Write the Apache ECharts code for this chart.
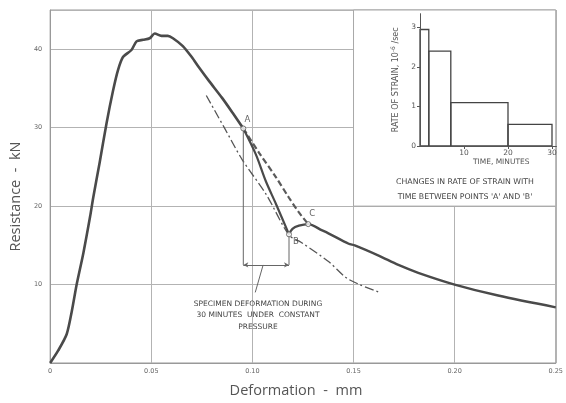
<!DOCTYPE html>
<html>
<head>
<meta charset="utf-8">
<script src="https://cdn.jsdelivr.net/npm/echarts@6/dist/echarts.min.js"></script>
<style>
  html, body { margin: 0; padding: 0; background: #fff; }
  #chart { width: 566px; height: 403px; }
</style>
</head>
<body>
<div id="chart"></div>
<script>
// Resistance (kN) against deformation (mm) — rise to peak and descent to point A
const loadingBranch = [
  [0, 0], [0.004, 1.6], [0.0082, 3.7], [0.0107, 6.6], [0.0131, 10.0], [0.0164, 14.0],
  [0.0197, 18.6], [0.0213, 21.1], [0.0245, 25.6], [0.0279, 30.6], [0.031, 34.6],
  [0.0335, 37.3], [0.036, 39.0], [0.0402, 39.9], [0.0427, 41.0], [0.0459, 41.2],
  [0.0492, 41.4], [0.0517, 42.0], [0.055, 41.7], [0.0582, 41.7], [0.0607, 41.4],
  [0.0656, 40.4], [0.07, 39.0], [0.0738, 37.6], [0.0787, 35.9], [0.085, 33.8],
  [0.0902, 31.9], [0.0955, 29.9]
];
// Creep under constant pressure, A to B
const creepBranch = [
  [0.0955, 29.9], [0.1017, 26.6], [0.1066, 23.2], [0.1116, 20.3], [0.1181, 16.4]
];
// Reloading from B through C and the post-peak tail
const reloadBranch = [
  [0.1181, 16.4], [0.1198, 17.1], [0.123, 17.5], [0.1276, 17.7], [0.1345, 16.9],
  [0.1378, 16.5], [0.1476, 15.2], [0.1506, 15.0], [0.1624, 13.7], [0.1722, 12.5],
  [0.182, 11.5], [0.20, 10.0], [0.2215, 8.6], [0.25, 7.1]
];
// Continuous-loading path from A to C (dashed)
const continuousAC = [
  [0.0955, 29.9], [0.1033, 26.8], [0.1116, 23.7], [0.118, 21.1], [0.123, 19.2], [0.1276, 17.7]
];
// Chain-dotted reference line
const chainLine = [
  [0.0772, 34.1], [0.0861, 30.0], [0.095, 25.9], [0.1068, 21.5], [0.1181, 16.3],
  [0.124, 15.4], [0.1378, 12.9], [0.1462, 10.9], [0.153, 10.0], [0.1629, 9.0]
];
// Named points
const pointNames = ['A', 'B', 'C'];
const pointX = [0.0955, 0.1181, 0.1276];
const pointY = [29.9, 16.4, 17.7];
// Dimension bracket for the 30-minute deformation and its leader
const bracketLevel = 12.5;
const leaderLine = [[0.1053, 12.5], [0.1014, 9.0]];
// Tick labels of the main axes
const xTickLabels = ['0', '0.05', '0.10', '0.15', '0.20', '0.25'];
const yTickLabels = ['0', '10', '20', '30', '40'];

// Inset: rate of strain (10^-6 /sec) over time steps (minutes)
const timeEdges = [0, 2, 7, 20, 30];
const strainRates = [2.95, 2.4, 1.1, 0.55];

const GRID_COLOR = '#b3b3b3';
const INK = '#4a4a4a';
const SMALL_FONT = 'DejaVu Sans';

const chart = echarts.init(document.getElementById('chart'), null, { renderer: 'canvas' });

const histogram = strainRates.map((r, i) => [timeEdges[i], timeEdges[i + 1], r]);

const option = {
  animation: false,
  backgroundColor: '#fff',
  grid: [
    { left: 50, top: 10, right: 8, bottom: 36, show: true, borderColor: '#999', borderWidth: 1 },
    { left: 420, top: 13.7, width: 136.4, height: 132.3 }
  ],
  xAxis: [
    {
      type: 'value', gridIndex: 0, min: 0, max: 0.25, interval: 0.05,
      axisLine: { show: true, lineStyle: { color: '#999', width: 1 } },
      axisTick: { show: false },
      axisLabel: {
        fontSize: 6.5, color: '#666', fontFamily: SMALL_FONT, margin: 5,
        formatter: v => xTickLabels[Math.round(v / 0.05)] ?? ''
      },
      splitLine: { show: true, lineStyle: { color: GRID_COLOR, width: 1 } },
      name: 'Deformation  -  mm', nameLocation: 'middle', nameGap: 20,
      nameTextStyle: { fontSize: 14.5, color: '#555', fontFamily: 'Open Sans', padding: [0, 14, 0, 0] }
    },
    {
      type: 'value', gridIndex: 1, min: 0, max: 31, interval: 10, z: 10,
      axisLine: { show: true, lineStyle: { color: '#555', width: 1 } },
      axisTick: { show: true, length: 3, lineStyle: { color: '#555' } },
      axisLabel: {
        fontSize: 7.5, color: '#555', fontFamily: SMALL_FONT, margin: 3,
        showMinLabel: false, showMaxLabel: false
      },
      splitLine: { show: false },
      name: 'TIME, MINUTES', nameLocation: 'middle', nameGap: 12,
      nameTextStyle: { fontSize: 7.5, color: '#555', fontFamily: SMALL_FONT, padding: [0, 0, 0, 26] }
    }
  ],
  yAxis: [
    {
      type: 'value', gridIndex: 0, min: 0, max: 45, interval: 10,
      axisLine: { show: true, lineStyle: { color: '#999', width: 1 } },
      axisTick: { show: false },
      axisLabel: {
        fontSize: 6.5, color: '#666', fontFamily: SMALL_FONT, margin: 8,
        showMinLabel: false, showMaxLabel: false,
        formatter: v => yTickLabels[Math.round(v / 10)] ?? ''
      },
      splitLine: { show: true, lineStyle: { color: GRID_COLOR, width: 1 } },
      name: 'Resistance  -  kN', nameLocation: 'middle', nameGap: 26,
      nameTextStyle: { fontSize: 14.5, color: '#555', fontFamily: 'Open Sans', padding: [0, 20, 0, 0] }
    },
    {
      type: 'value', gridIndex: 1, min: 0, max: 3.35, interval: 1, z: 10,
      axisLine: { show: true, lineStyle: { color: '#555', width: 1 } },
      axisTick: { show: true, length: 3, lineStyle: { color: '#555' } },
      axisLabel: {
        fontSize: 7.5, color: '#555', fontFamily: SMALL_FONT, margin: 4, showMaxLabel: false
      },
      splitLine: { show: false },
      name: 'RATE OF STRAIN, 10{sup|-6} /sec', nameLocation: 'middle', nameGap: 19,
      nameTextStyle: {
        fontSize: 8, color: '#555', fontFamily: SMALL_FONT,
        rich: { sup: { fontSize: 6, color: '#555', fontFamily: SMALL_FONT, verticalAlign: 'top', padding: [0, 0, 5, 0] } }
      }
    }
  ],
  series: [
    {
      // white panel that hosts the inset
      type: 'line', xAxisIndex: 0, yAxisIndex: 0, data: [], silent: true,
      markArea: {
        silent: true,
        itemStyle: { color: '#fff', borderColor: '#a8a8a8', borderWidth: 1, opacity: 1 },
        data: [[{ xAxis: 0.15, yAxis: 20 }, { xAxis: 0.25, yAxis: 45 }]]
      }
    },
    {
      type: 'line', xAxisIndex: 0, yAxisIndex: 0, data: chainLine, symbol: 'none', smooth: 0.3,
      lineStyle: { color: '#555', width: 1.3, type: [9, 3, 2, 3] }, z: 3
    },
    {
      type: 'line', xAxisIndex: 0, yAxisIndex: 0, data: continuousAC, symbol: 'none', smooth: 0.3,
      lineStyle: { color: '#5a5a5a', width: 2.2, type: [6, 3] }, z: 4
    },
    {
      type: 'line', xAxisIndex: 0, yAxisIndex: 0, data: loadingBranch, symbol: 'none', smooth: 0.25,
      lineStyle: { color: INK, width: 2.6 }, z: 5
    },
    {
      type: 'line', xAxisIndex: 0, yAxisIndex: 0, data: creepBranch, symbol: 'none', smooth: 0.3,
      lineStyle: { color: INK, width: 2.2 }, z: 5
    },
    {
      type: 'line', xAxisIndex: 0, yAxisIndex: 0, data: reloadBranch, symbol: 'none', smooth: 0.3,
      lineStyle: { color: INK, width: 2.4 }, z: 5
    },
    {
      // dimension bracket: verticals from A and B, arrowed span between them
      type: 'line', xAxisIndex: 0, yAxisIndex: 0, symbol: 'none',
      data: [[pointX[0], pointY[0]], [pointX[0], bracketLevel], null, [pointX[1], bracketLevel], [pointX[1], pointY[1]]],
      connectNulls: false,
      lineStyle: { color: '#666', width: 1 }, z: 4,
      markLine: {
        silent: true, symbol: ['arrow', 'arrow'], symbolSize: [4, 5],
        lineStyle: { color: '#666', width: 1, type: 'solid' }, label: { show: false },
        data: [[{ coord: [pointX[0], bracketLevel] }, { coord: [pointX[1], bracketLevel] }]]
      }
    },
    {
      type: 'line', xAxisIndex: 0, yAxisIndex: 0, data: leaderLine, symbol: 'none',
      lineStyle: { color: '#666', width: 1 }, z: 4
    },
    {
      type: 'scatter', xAxisIndex: 0, yAxisIndex: 0, z: 6,
      data: pointNames.map((n, i) => ({ name: n, value: [pointX[i], pointY[i]] })),
      symbol: 'circle', symbolSize: 5,
      itemStyle: { color: '#fff', borderColor: '#555', borderWidth: 1 },
      label: {
        show: true, formatter: '{b}', position: 'inside', fontSize: 8.5, color: '#3a3a3a',
        fontFamily: SMALL_FONT
      },
      labelLayout: p => {
        const offs = { A: [4, -9], B: [7, 7], C: [4, -10] };
        const o = offs[pointNames[p.dataIndex]];
        return { dx: o[0], dy: o[1] };
      }
    },
    {
      type: 'custom', xAxisIndex: 1, yAxisIndex: 1, z: 10,
      data: histogram,
      encode: { x: [0, 1], y: 2 },
      renderItem: (params, api) => {
        const topLeft = api.coord([api.value(0), api.value(2)]);
        const bottomRight = api.coord([api.value(1), 0]);
        return {
          type: 'rect',
          shape: { x: topLeft[0], y: topLeft[1], width: bottomRight[0] - topLeft[0], height: bottomRight[1] - topLeft[1] },
          style: { fill: 'rgba(255,255,255,0)', stroke: '#444', lineWidth: 1.3 }
        };
      }
    }
  ],
  graphic: [
    {
      type: 'text', x: 258, y: 315.5, z: 20,
      style: {
        text: 'SPECIMEN DEFORMATION DURING\n30 MINUTES  UNDER  CONSTANT\nPRESSURE',
        align: 'center', verticalAlign: 'middle', lineHeight: 11.5,
        font: '7.5px "DejaVu Sans"', fill: '#444'
      }
    },
    {
      type: 'text', x: 465, y: 189.5, z: 20,
      style: {
        text: 'CHANGES IN RATE OF STRAIN WITH\nTIME BETWEEN POINTS \'A\' AND \'B\'',
        align: 'center', verticalAlign: 'middle', lineHeight: 15,
        font: '7.8px "DejaVu Sans"', fill: '#444'
      }
    }
  ]
};

chart.setOption(option);
</script>
</body>
</html>
